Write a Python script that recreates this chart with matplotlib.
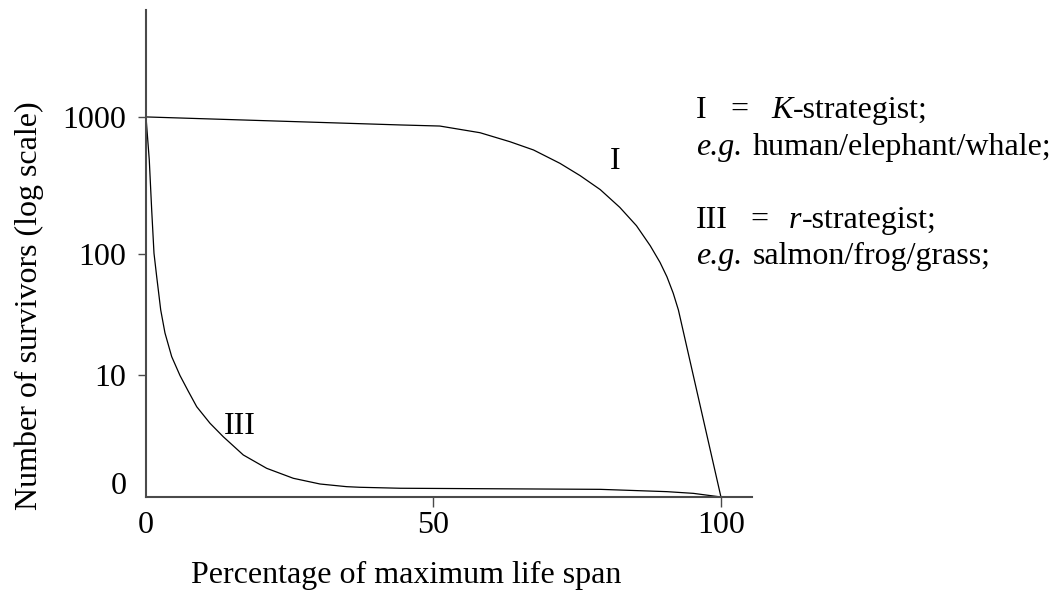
import matplotlib
matplotlib.use("Agg")
import matplotlib.pyplot as plt

# ---- data (x: % of maximum life span, y: position on the log-survivor axis, in decade steps) ----
curve_I_x = [0, 44.2, 51.1, 58.1, 63.3, 67.4, 72.0, 75.5, 79.0, 82.4, 85.3, 87.7, 89.4, 90.6, 91.7, 92.6, 100]
curve_I_y = [3.128, 3.062, 3.053, 2.998, 2.924, 2.856, 2.746, 2.645, 2.530, 2.384, 2.233, 2.068, 1.931, 1.813, 1.677, 1.539, 0.0]

curve_III_x = [0, 0.57, 0.99, 1.39, 1.86, 2.14, 2.56, 3.30, 4.47, 5.91, 7.36, 8.82, 11.13, 13.44,
               16.92, 20.99, 25.62, 30.26, 34.9, 37.2, 44.2, 79.0, 90.6, 95.2, 100]
curve_III_y = [3.128, 2.774, 2.362, 2.006, 1.813, 1.704, 1.539, 1.350, 1.155, 1.000, 0.870, 0.743, 0.607, 0.496,
               0.346, 0.236, 0.154, 0.107, 0.085, 0.080, 0.072, 0.063, 0.044, 0.030, 0.0]

y_tick_pos = [0.118, 1, 2, 3.128]
y_tick_labels = ["0", "10", "100", "1000"]
x_ticks = [0, 50, 100]
x_tick_labels = ["0", "50", "100"]

curve_labels = ["I", "III"]
curve_label_x = [81.6, 16.4]
curve_label_y = [2.765, 0.580]

# ---- styling ----
plt.rcParams["font.family"] = ["Liberation Serif", "DejaVu Serif"]
FS = 23
FS_NOTE = 23
AX_COL = "#4a4a4a"

W, H = 1061, 594
fig = plt.figure(figsize=(W / 100, H / 100), dpi=100)
ax = fig.add_axes([146 / W, (H - 497) / H, (752 - 146) / W, (497 - 10) / H])

ax.plot(curve_I_x, curve_I_y, color="black", lw=0.9, solid_joinstyle="round")
ax.plot(curve_III_x, curve_III_y, color="black", lw=0.9, solid_joinstyle="round")

for t, x, y in zip(curve_labels, curve_label_x, curve_label_y):
    ax.text(x, y, t, fontsize=FS, ha="center", va="center")

ax.set_xlim(0, 105.4)
ax.set_ylim(0, 4.008)

for s in ["top", "right"]:
    ax.spines[s].set_visible(False)
for s in ["left", "bottom"]:
    ax.spines[s].set_color(AX_COL)
    ax.spines[s].set_linewidth(1.5)

ax.set_xticks(x_ticks)
ax.set_xticklabels(x_tick_labels, fontsize=FS)
ax.set_yticks(y_tick_pos)
ax.set_yticklabels(y_tick_labels, fontsize=FS)
ax.tick_params(axis="x", length=7, width=1.0, color=AX_COL, pad=3)
ax.tick_params(axis="y", length=6, width=1.0, color=AX_COL, pad=8)
ax.yaxis.get_major_ticks()[0].tick1line.set_visible(False)
ax.xaxis.get_major_ticks()[0].tick1line.set_visible(False)

# axis titles
fig.text(29 / W, 1 - 306 / H, "Number of survivors (log scale)", rotation=90,
         fontsize=FS, ha="center", va="center")
fig.text(406 / W, 1 - 583 / H, "Percentage of maximum life span",
         fontsize=FS, ha="center", va="baseline")

# annotation block on the right
def ftxt(px, base, s, style="normal"):
    return fig.text(px / W, 1 - base / H, s, fontsize=FS_NOTE, ha="left",
                    va="bottom", fontstyle=style)

def line(px, base, pieces):
    t = ftxt(px, base, pieces[0][0], pieces[0][1])
    for s, st, gap in pieces[1:]:
        t = ax.annotate(s, xy=(1, 0), xycoords=t, xytext=(gap, 0),
                        textcoords="offset pixels", ha="left", va="bottom",
                        fontsize=FS_NOTE, fontstyle=st, annotation_clip=False)
    return t

DESC = 6  # approx descent in pixels of the note font (texts are bottom-aligned)
ftxt(696, 119 + DESC, "I")
ftxt(730, 119 + DESC, "=")
line(771, 119 + DESC, [("K", "italic"), ("-strategist;", "normal", 0)])
line(696, 156 + DESC, [("e.g.", "italic"), ("human/elephant/whale;", "normal", 10)])
ftxt(696, 229 + DESC, "III")
ftxt(750, 229 + DESC, "=")
line(789, 229 + DESC, [("r", "italic"), ("-strategist;", "normal", 0)])
line(696, 265 + DESC, [("e.g.", "italic"), ("salmon/frog/grass;", "normal", 10)])

fig.savefig("out.png", dpi=100)
